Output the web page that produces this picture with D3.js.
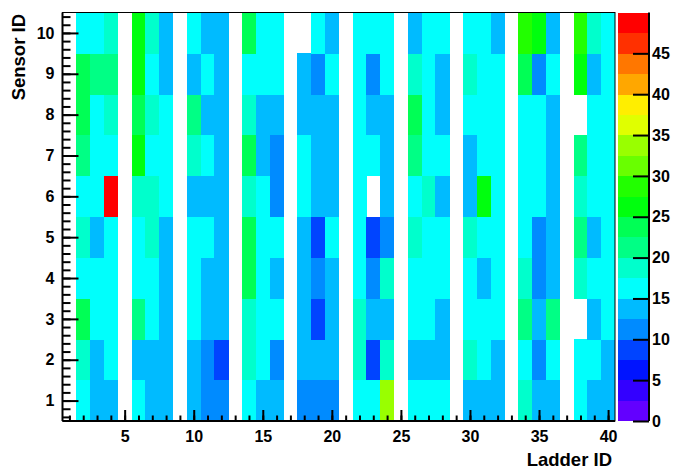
<!DOCTYPE html>
<html>
<head>
<meta charset="utf-8">
<script src="https://cdn.jsdelivr.net/npm/d3@7"></script>
<style>
  html, body { margin: 0; padding: 0; background: #fff; }
  svg { display: block; }
  text { font-family: "Liberation Sans", Arial, Helvetica, sans-serif; font-weight: bold; fill: #000; }
</style>
</head>
<body>
<svg id="chart" width="676" height="472"></svg>
<script>
// ---- data ----
const ladders = [1,2,3,4,5,6,7,8,9,10,11,12,13,14,15,16,17,18,19,20,21,22,23,24,25,26,27,28,29,30,31,32,33,34,35,36,37,38,39,40];
const sensors = [1,2,3,4,5,6,7,8,9,10];
const xTicks = [5,10,15,20,25,30,35,40];
const zTicks = [0,5,10,15,20,25,30,35,40,45];
// values per sensor row, indexed by ladder (0 = empty bin)
const sensor1  = [0,16,14,14,0,16,14,14,0,14, 11,11,0,16,14,14,0,11,11,11, 0,16,16,34,0,16,16,16,0,14, 14,14,0,19,14,14,0,16,14,14];
const sensor2  = [0,19,14,16,0,14,14,14,0,14, 11,9,0,19,16,11,0,14,14,14, 0,19,9,19,0,14,14,14,0,19, 16,14,0,16,11,16,0,16,16,14];
const sensor3  = [0,24,16,16,0,21,16,14,0,16, 14,14,0,19,16,16,0,14,9,14, 0,19,14,14,0,16,16,14,0,16, 16,16,0,21,14,21,0,0,14,16];
const sensor4  = [0,16,16,16,0,16,16,14,0,16, 14,14,0,24,16,14,0,14,11,14, 0,16,11,19,0,16,16,16,0,16, 14,16,0,19,11,14,0,19,16,16];
const sensor5  = [0,19,14,16,0,16,19,14,0,16, 16,14,0,24,16,16,0,14,9,16, 0,16,9,11,0,19,16,16,0,19, 16,16,0,16,11,14,0,21,14,16];
const sensor6  = [0,16,16,49,0,19,19,16,0,14, 14,14,0,19,16,11,0,16,14,14, 0,16,0,14,0,16,19,14,0,14, 26,16,0,16,16,14,0,19,16,16];
const sensor7  = [0,21,16,16,0,26,16,16,0,19, 16,14,0,24,14,11,0,16,14,14, 0,16,16,14,0,21,16,16,0,14, 16,16,0,16,16,14,0,21,16,16];
const sensor8  = [0,24,16,19,0,24,19,16,0,21, 14,14,0,19,14,14,0,14,14,14, 0,16,14,14,0,24,16,14,0,16, 16,16,0,16,16,14,0,0,16,16];
const sensor9  = [0,24,21,21,0,26,16,14,0,14, 16,14,0,16,16,16,0,14,11,16, 0,16,11,16,0,19,16,14,0,19, 16,16,0,24,11,16,0,26,14,16];
const sensor10 = [0,16,16,19,0,26,19,14,0,16, 14,14,0,24,16,16,0,0,16,14, 0,16,16,16,0,14,16,16,0,16, 16,14,0,29,26,14,0,29,19,16];
const rows = [sensor1,sensor2,sensor3,sensor4,sensor5,sensor6,sensor7,sensor8,sensor9,sensor10];

// ---- layout ----
const L = 62.5, R = 615, T = 12.5, B = 421;
const CB0 = 618, CB1 = 649;
const zMax = 50, nLevels = 20;

const svg = d3.select("#chart");
const x = d3.scaleLinear().domain([0.5, 40.5]).range([L, R]);
const y = d3.scaleLinear().domain([0.5, 10.5]).range([B, T]);
const zy = d3.scaleLinear().domain([0, zMax]).range([B, T]);

// ROOT "pretty" palette (50 colours), 20 contour levels
const levelColors = d3.range(nLevels).map(k => {
  const idx = Math.floor((k + 0.99) * 50 / nLevels);
  const hue = 280 - (idx + 1) * 5.6;
  return d3.hsl(hue, 1, 0.5).formatHex();
});
const thresholds = d3.range(1, nLevels).map(k => k * zMax / nLevels);
const color = d3.scaleThreshold().domain(thresholds).range(levelColors);

// ---- cells ----
const cells = [];
rows.forEach((row, si) => row.forEach((v, li) => {
  if (v > 0) cells.push({ladder: ladders[li], sensor: sensors[si], v});
}));
svg.append("g").selectAll("rect").data(cells).join("rect")
  .attr("x", d => x(d.ladder - 0.5))
  .attr("y", d => y(d.sensor + 0.5))
  .attr("width", d => x(d.ladder + 0.5) - x(d.ladder - 0.5) + 0.3)
  .attr("height", d => y(d.sensor - 0.5) - y(d.sensor + 0.5) + 0.3)
  .attr("fill", d => color(d.v))
  .attr("shape-rendering", "crispEdges");

// frame
svg.append("rect").attr("x", L).attr("y", T).attr("width", R - L).attr("height", B - T)
  .attr("fill", "none").attr("stroke", "#000").attr("stroke-width", 1);

// ---- axes ----
function styleAxis(g) {
  g.select(".domain").remove();
  g.selectAll(".tick line").attr("stroke", "#000").attr("stroke-width", 2);
  g.selectAll(".tick text").style("font-size", "16px").attr("fill", "#000");
}
// x minor
svg.append("g").attr("transform", `translate(0,${B})`)
  .call(d3.axisBottom(x).tickValues(ladders).tickSize(-5.5).tickFormat(""))
  .call(styleAxis);
// x major
svg.append("g").attr("transform", `translate(0,${B})`)
  .call(d3.axisBottom(x).tickValues(xTicks).tickSize(-11).tickPadding(10).tickFormat(d3.format("d")))
  .call(styleAxis);
// y minor
const yMinor = d3.range(3, 53).map(i => i / 5);
svg.append("g").attr("transform", `translate(${L},0)`)
  .call(d3.axisLeft(y).tickValues(yMinor).tickSize(-8).tickFormat(""))
  .call(styleAxis);
// y major
svg.append("g").attr("transform", `translate(${L},0)`)
  .call(d3.axisLeft(y).tickValues(sensors).tickSize(-16).tickPadding(8).tickFormat(d3.format("d")))
  .call(styleAxis);
// axis lines
svg.append("line").attr("x1", L).attr("x2", R).attr("y1", B).attr("y2", B).attr("stroke", "#000").attr("stroke-width", 2);
svg.append("line").attr("x1", L).attr("x2", L).attr("y1", T).attr("y2", B).attr("stroke", "#000").attr("stroke-width", 2);

// titles
svg.append("text").attr("x", 612).attr("y", 466).attr("text-anchor", "end")
  .style("font-size", "18.5px").text("Ladder ID");
svg.append("text").attr("transform", "translate(25,14) rotate(-90)").attr("text-anchor", "end")
  .style("font-size", "18.5px").text("Sensor ID");

// ---- colour bar ----
const bands = d3.range(nLevels).map(k => ({lo: k * zMax / nLevels, hi: (k + 1) * zMax / nLevels}));
svg.append("g").selectAll("rect").data(bands).join("rect")
  .attr("x", CB0).attr("width", CB1 - CB0)
  .attr("y", d => zy(d.hi)).attr("height", d => zy(d.lo) - zy(d.hi) + 0.3)
  .attr("fill", d => color((d.lo + d.hi) / 2))
  .attr("shape-rendering", "crispEdges");
svg.append("g").attr("transform", `translate(${CB1},0)`)
  .call(d3.axisRight(zy).tickValues(zTicks).tickSize(-16).tickPadding(3).tickFormat(d3.format("d")))
  .call(styleAxis);
svg.append("line").attr("x1", CB1).attr("x2", CB1).attr("y1", T).attr("y2", B).attr("stroke", "#000").attr("stroke-width", 2);
</script>
</body>
</html>
